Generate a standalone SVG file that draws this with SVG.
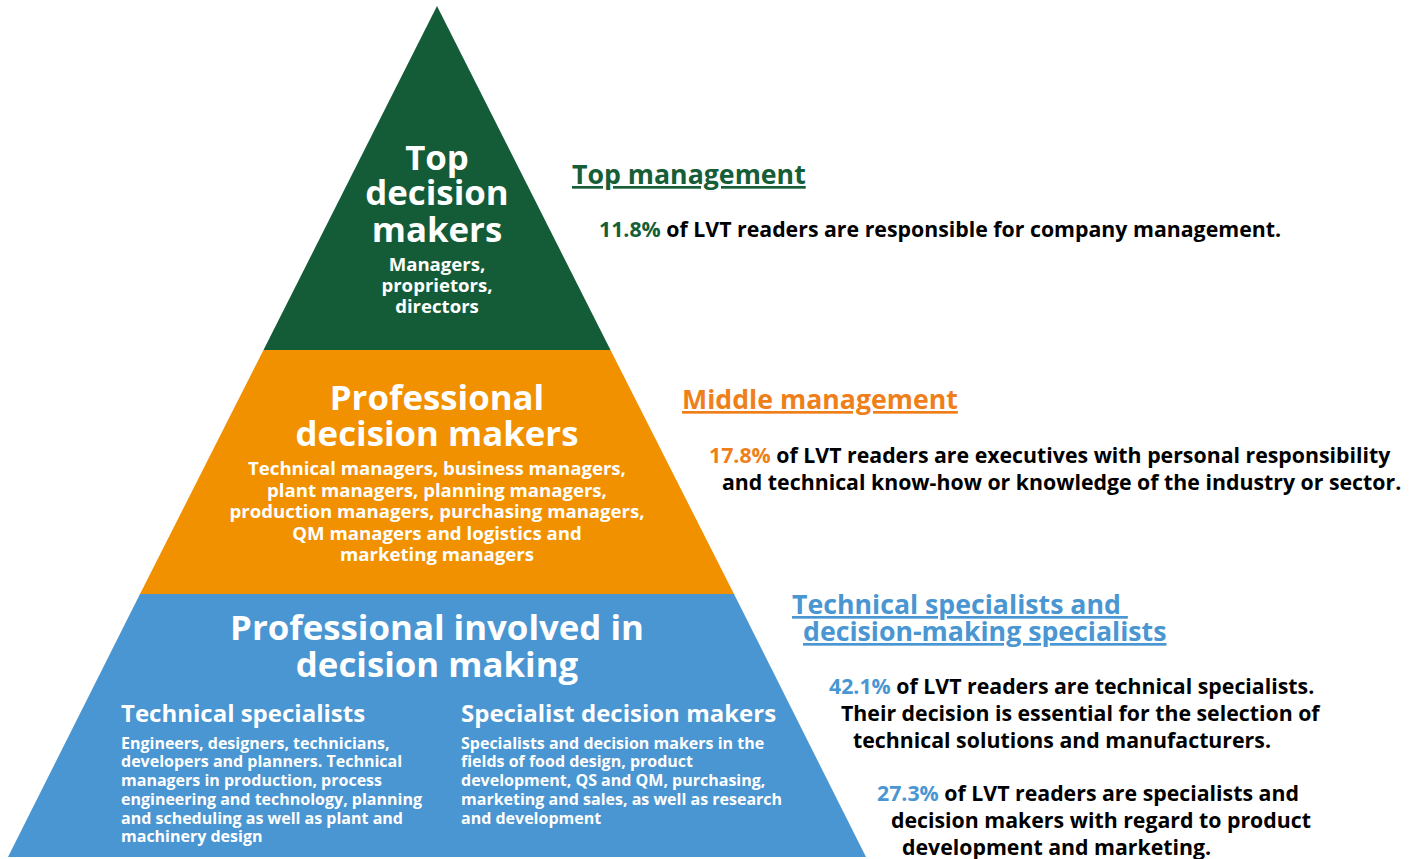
<svg xmlns="http://www.w3.org/2000/svg" width="1420" height="859" viewBox="0 0 1420 859">
<style>
text{font-family:"Open Sans","Noto Sans",sans-serif;font-weight:700}
.w{fill:#ffffff}
.t{text-anchor:middle}
.big{font-size:34.8px}
.sm{font-size:18.6px}
.sub{font-size:24px}
.body{font-size:16px}
.k{fill:#000000;font-size:21.3px}
.h{font-size:26.7px;text-decoration:underline;white-space:pre}
.g{fill:#155e37}
.o{fill:#ef7f1a}
.b{fill:#4a96d2}
</style>
<g id="tier-top">
<polygon points="437,6 263.5,350 610.5,350" fill="#145c37"/>
<text class="w t big" x="437" y="170">Top</text>
<text class="w t big" x="437" y="205">decision</text>
<text class="w t big" x="437" y="242">makers</text>
<text class="w t sm" x="437" y="271">Managers,</text>
<text class="w t sm" x="437" y="292">proprietors,</text>
<text class="w t sm" x="437" y="313">directors</text>
</g>
<g id="tier-middle">
<polygon points="263.5,350 610.5,350 734,594 140,594" fill="#f29100"/>
<text class="w t big" x="437" y="410">Professional</text>
<text class="w t big" x="437" y="446">decision makers</text>
<text class="w t sm" x="437" y="475">Technical managers, business managers,</text>
<text class="w t sm" x="437" y="497">plant managers, planning managers,</text>
<text class="w t sm" x="437" y="518">production managers, purchasing managers,</text>
<text class="w t sm" x="437" y="540">QM managers and logistics and</text>
<text class="w t sm" x="437" y="561">marketing managers</text>
</g>
<g id="tier-bottom">
<polygon points="140,594 734,594 866,857 8,857" fill="#4a96d2"/>
<text class="w t big" x="437" y="640">Professional involved in</text>
<text class="w t big" x="437" y="677">decision making</text>
<text class="w sub" x="121" y="722">Technical specialists</text>
<text class="w sub" x="461" y="722">Specialist decision makers</text>
<text class="w body" x="121" y="749">Engineers, designers, technicians,</text>
<text class="w body" x="121" y="767">developers and planners. Technical</text>
<text class="w body" x="121" y="786">managers in production, process</text>
<text class="w body" x="121" y="805">engineering and technology, planning</text>
<text class="w body" x="121" y="824">and scheduling as well as plant and</text>
<text class="w body" x="121" y="842">machinery design</text>
<text class="w body" x="461" y="749">Specialists and decision makers in the</text>
<text class="w body" x="461" y="767">fields of food design, product</text>
<text class="w body" x="461" y="786">development, QS and QM, purchasing,</text>
<text class="w body" x="461" y="805">marketing and sales, as well as research</text>
<text class="w body" x="461" y="824">and development</text>
</g>
<g id="label-top">
<text class="h g" x="572" y="184">Top management</text>
<text class="k" x="599" y="237"><tspan class="g">11.8%</tspan> of LVT readers are responsible for company management.</text>
</g>
<g id="label-middle">
<text class="h o" x="682" y="409">Middle management</text>
<text class="k" x="709" y="463"><tspan class="o">17.8%</tspan> of LVT readers are executives with personal responsibility</text>
<text class="k" x="722" y="490">and technical know-how or knowledge of the industry or sector.</text>
</g>
<g id="label-bottom">
<text class="h b" x="792" y="614">Technical specialists and </text>
<text class="h b" x="803" y="641">decision-making specialists</text>
<text class="k" x="829" y="694"><tspan class="b">42.1%</tspan> of LVT readers are technical specialists.</text>
<text class="k" x="841" y="721">Their decision is essential for the selection of</text>
<text class="k" x="853" y="748">technical solutions and manufacturers.</text>
<text class="k" x="877" y="801"><tspan class="b">27.3%</tspan> of LVT readers are specialists and</text>
<text class="k" x="891" y="828">decision makers with regard to product</text>
<text class="k" x="902" y="855">development and marketing.</text>
</g>
<g id="connectors"/>
</svg>
